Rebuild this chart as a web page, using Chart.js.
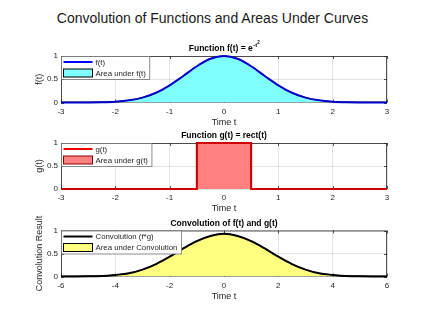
<!DOCTYPE html>
<html>
<head>
<meta charset="utf-8">
<script src="https://cdn.jsdelivr.net/npm/chart.js@4.4.1/dist/chart.umd.min.js"></script>
<style>
  body { margin: 0; background: #fff; }
  #wrap { position: relative; width: 425px; height: 310px; }
  #wrap canvas { position: absolute; left: 0; top: 0; }
  #mainTitle {
    position: absolute; left: 0; width: 425px; top: 9px; text-align: center;
    font: 14px "Liberation Sans", Arial, sans-serif; color: #1a1a1a; line-height: 18px;
  }
</style>
</head>
<body>
<div id="wrap">
  <div id="mainTitle">Convolution of Functions and Areas Under Curves</div>
  <canvas id="c1" width="425" height="310"></canvas>
  <canvas id="c2" width="425" height="310"></canvas>
  <canvas id="c3" width="425" height="310"></canvas>
</div>
<script>
// f(t) = e^(-t^2)
var tF = [-3, -2.75, -2.5, -2.25, -2, -1.75, -1.5, -1.25, -1, -0.75, -0.5, -0.25, 0,
          0.25, 0.5, 0.75, 1, 1.25, 1.5, 1.75, 2, 2.25, 2.5, 2.75, 3];
var fVals = [0, 0.0005, 0.002, 0.006, 0.018, 0.047, 0.105, 0.21, 0.37, 0.57, 0.78, 0.94, 1,
             0.94, 0.78, 0.57, 0.37, 0.21, 0.105, 0.047, 0.018, 0.006, 0.002, 0.0005, 0];

// g(t) = rect(t)
var tG = [-3, -0.5, -0.5, 0.5, 0.5, 3];
var gVals = [0, 0, 1, 1, 0, 0];

// convolution result
var tC = [-6, -5.5, -5, -4.5, -4, -3.5, -3, -2.5, -2, -1.5, -1, -0.5, 0,
          0.5, 1, 1.5, 2, 2.5, 3, 3.5, 4, 4.5, 5, 5.5, 6];
var cVals = [0, 0.001, 0.004, 0.012, 0.035, 0.07, 0.15, 0.27, 0.43, 0.61, 0.77, 0.88, 0.93,
             0.88, 0.77, 0.61, 0.43, 0.27, 0.15, 0.07, 0.035, 0.012, 0.004, 0.001, 0];

var yTicks = [0, 0.5, 1];

var FONT = '"Liberation Sans", Arial, sans-serif';
var AX = '#262626';

function pts(xs, ys) {
    return xs.map(function (x, i) { return { x: x, y: ys[i] }; });
}

// axes box + inward ticks under the data, subplot title and boxed legend on top
var matlabAxes = {
    id: 'matlabAxes',
    beforeDatasetsDraw: function (chart) {
        var ctx = chart.ctx, a = chart.chartArea;
        var xs = chart.scales.x, ys = chart.scales.y;
        ctx.save();
        ctx.strokeStyle = AX;
        ctx.lineWidth = 0.8;
        ctx.strokeRect(a.left + 0.5, a.top + 0.5, a.right - a.left - 1, a.bottom - a.top - 1);
        ctx.beginPath();
        xs.ticks.forEach(function (t) {
            var px = Math.round(xs.getPixelForValue(t.value)) + 0.5;
            ctx.moveTo(px, a.bottom); ctx.lineTo(px, a.bottom - 3);
            ctx.moveTo(px, a.top); ctx.lineTo(px, a.top + 3);
        });
        ys.ticks.forEach(function (t) {
            var py = Math.round(ys.getPixelForValue(t.value)) + 0.5;
            ctx.moveTo(a.left, py); ctx.lineTo(a.left + 3, py);
            ctx.moveTo(a.right, py); ctx.lineTo(a.right - 3, py);
        });
        ctx.stroke();
        ctx.restore();
    },
    afterDraw: function (chart, args, opts) {
        var ctx = chart.ctx, a = chart.chartArea;
        ctx.save();

        // subplot title
        var cx = (a.left + a.right) / 2, ty = a.top - 7;
        ctx.fillStyle = '#000';
        ctx.textBaseline = 'middle';
        var bold = 'bold 8.5px ' + FONT;
        ctx.font = bold;
        var w0 = ctx.measureText(opts.title).width, w1 = 0, w2 = 0;
        if (opts.sup) {
            ctx.font = 'bold 6px ' + FONT; w1 = ctx.measureText(opts.sup).width;
            ctx.font = 'bold 4.5px ' + FONT; w2 = ctx.measureText(opts.sup2).width;
        }
        var sx = cx - (w0 + w1 + w2) / 2;
        ctx.textAlign = 'left';
        ctx.font = bold;
        ctx.fillText(opts.title, sx, ty);
        if (opts.sup) {
            ctx.font = 'bold 6px ' + FONT;
            ctx.fillText(opts.sup, sx + w0 + 0.5, ty - 3.5);
            ctx.font = 'bold 4.5px ' + FONT;
            ctx.fillText(opts.sup2, sx + w0 + w1 + 0.5, ty - 6);
        }

        // legend
        var ds = chart.data.datasets;
        ctx.font = '7.8px ' + FONT;
        var tw = 0;
        ds.forEach(function (d) { tw = Math.max(tw, ctx.measureText(d.label).width); });
        var lx = a.left + 0.5, ly = a.top + 0.5, lw = 34 + tw + 4, rh = 11, lh = rh * ds.length + 1;
        ctx.fillStyle = '#fff';
        ctx.fillRect(lx, ly, lw, lh);
        ctx.strokeStyle = '#707070';
        ctx.lineWidth = 0.8;
        ctx.strokeRect(lx, ly, lw, lh);
        ds.forEach(function (d, i) {
            var cy = ly + 5.5 + i * rh;
            if (d.fill) {
                ctx.fillStyle = d.backgroundColor;
                ctx.fillRect(lx + 2, cy - 4, 29, 8);
                ctx.strokeStyle = d.borderColor;
                ctx.lineWidth = 1;
                ctx.strokeRect(lx + 2, cy - 4, 29, 8);
            } else {
                ctx.strokeStyle = d.legendColor || d.borderColor;
                ctx.lineWidth = 2;
                ctx.beginPath();
                ctx.moveTo(lx + 2, cy); ctx.lineTo(lx + 31, cy);
                ctx.stroke();
            }
            ctx.fillStyle = AX;
            ctx.textAlign = 'left';
            ctx.fillText(d.label, lx + 34, cy + 0.5);
        });
        ctx.restore();
    }
};

function makeChart(id, top, bottom, xMin, xMax, xStep, yLabel, datasets, titleOpts) {
    var xH = 30;
    return new Chart(document.getElementById(id).getContext('2d'), {
        type: 'line',
        data: { datasets: datasets },
        options: {
            responsive: false,
            animation: false,
            events: [],
            layout: { padding: { left: 0, right: 38, top: top, bottom: 310 - bottom - xH } },
            plugins: { legend: { display: false }, title: { display: false }, tooltip: { enabled: false },
                       matlabAxes: titleOpts },
            elements: { point: { radius: 0 } },
            scales: {
                x: {
                    type: 'linear', min: xMin, max: xMax,
                    afterFit: function (s) { s.height = xH; },
                    ticks: { stepSize: xStep, padding: 4, color: AX, font: { family: FONT, size: 8 } },
                    grid: { color: 'rgba(0,0,0,0.11)', drawTicks: false },
                    border: { display: false },
                    title: { display: true, text: 'Time t', color: AX, font: { family: FONT, size: 9 },
                             padding: { top: 0, bottom: 4.6 } }
                },
                y: {
                    min: 0, max: 1,
                    afterFit: function (s) { s.width = 61; },
                    afterBuildTicks: function (s) { s.ticks = yTicks.map(function (v) { return { value: v }; }); },
                    ticks: { padding: 3, color: AX, font: { family: FONT, size: 8 },
                             callback: function (v) { return String(v); } },
                    grid: { color: 'rgba(0,0,0,0.11)', drawTicks: false },
                    border: { display: false },
                    title: { display: true, text: yLabel, color: AX, font: { family: FONT, size: 9 },
                             padding: { top: 34.5, bottom: 0 } }
                }
            }
        },
        plugins: [matlabAxes]
    });
}

makeChart('c1', 56, 102.5, -3, 3, 1, 'f(t)', [
    { label: 'f(t)', data: pts(tF, fVals), borderColor: '#0000c8', legendColor: '#0000ff',
      borderWidth: 2, fill: false, clip: 3, cubicInterpolationMode: 'monotone' },
    { label: 'Area under f(t)', data: pts(tF, fVals), borderColor: '#000000', borderWidth: 1,
      backgroundColor: '#80ffff', fill: 'origin', clip: 3, cubicInterpolationMode: 'monotone' }
], { title: 'Function f(t) = e', sup: '-t', sup2: '2' });

makeChart('c2', 143, 189, -3, 3, 1, 'g(t)', [
    { label: 'g(t)', data: pts(tG, gVals), borderColor: '#cc0000', legendColor: '#ee0000',
      borderWidth: 2, fill: false, clip: 3, tension: 0 },
    { label: 'Area under g(t)', data: pts(tG, gVals), borderColor: '#8b0000', borderWidth: 1.2,
      backgroundColor: '#ff8080', fill: 'origin', clip: 3, tension: 0 }
], { title: 'Function g(t) = rect(t)' });

makeChart('c3', 230.5, 276.5, -6, 6, 2, 'Convolution Result', [
    { label: 'Convolution (f*g)', data: pts(tC, cVals), borderColor: '#000000',
      borderWidth: 2, fill: false, clip: 3, cubicInterpolationMode: 'monotone' },
    { label: 'Area under Convolution', data: pts(tC, cVals), borderColor: '#000000', borderWidth: 1,
      backgroundColor: '#ffff80', fill: 'origin', clip: 3, cubicInterpolationMode: 'monotone' }
], { title: 'Convolution of f(t) and g(t)' });
</script>
</body>
</html>
